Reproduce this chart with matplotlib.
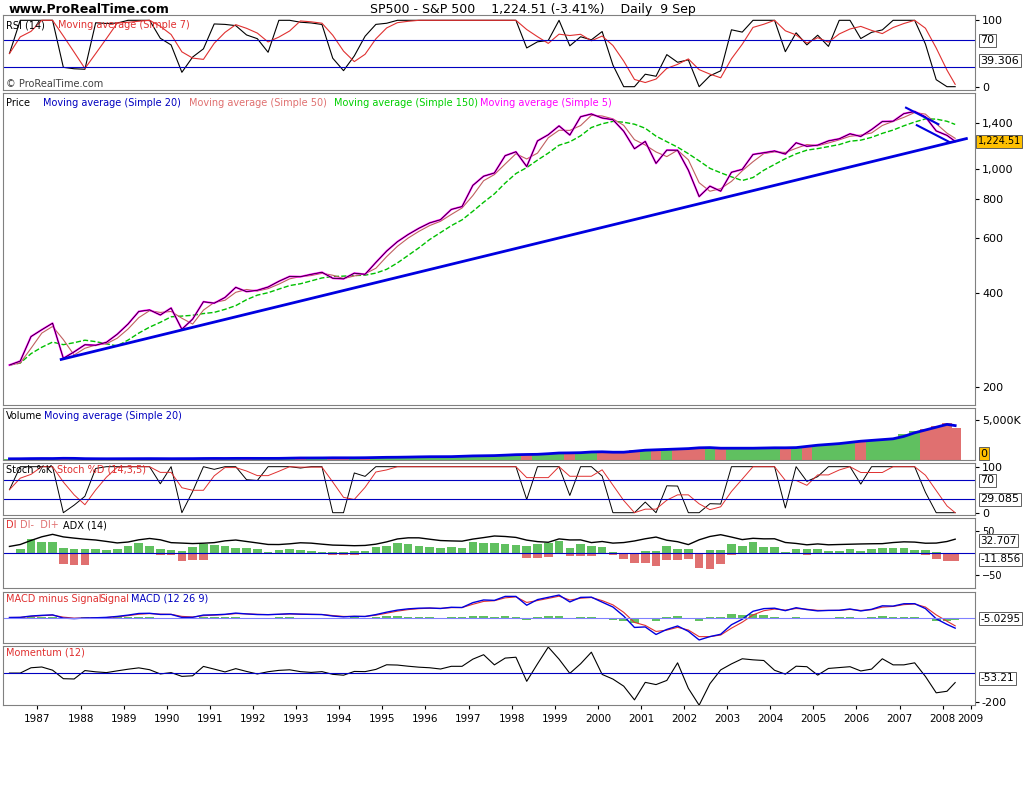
import numpy as np
import pandas as pd
import matplotlib
matplotlib.use("Agg")
import matplotlib.pyplot as plt
from matplotlib.ticker import FixedLocator, NullLocator

# quarterly closes of the S&P 500 (1986 Q3 .. 9 Sep 2008)
closes = [235, 242,
          290, 305, 320, 247,  259, 273, 272, 278,  295, 318, 349, 353,
          340, 358, 306, 330,  375, 371, 387, 417,  404, 408, 418, 436,
          452, 451, 459, 466,  446, 444, 463, 459,  501, 545, 584, 616,
          645, 671, 687, 741,  757, 885, 947, 970,  1102, 1134, 1017, 1229,
          1286, 1373, 1283, 1469,  1499, 1455, 1437, 1320,  1160, 1224, 1041, 1148,
          1147, 990, 815, 880,  848, 975, 996, 1112,  1126, 1141, 1115, 1212,
          1181, 1191, 1229, 1248,  1295, 1270, 1336, 1418,  1421, 1503, 1527, 1468,
          1323, 1280, 1225]
# average daily volume per quarter, thousands of shares
volumes = [150, 160,
           190, 180, 185, 240,  170, 165, 150, 155,  160, 165, 170, 175,
           160, 165, 170, 175,  200, 190, 195, 210,  200, 205, 200, 210,
           250, 260, 250, 270,  280, 270, 280, 290,  330, 340, 350, 380,
           400, 420, 410, 430,  500, 520, 540, 560,  650, 680, 700, 720,
           850, 900, 880, 950,  1050, 1000, 950, 1000,  1200, 1250, 1300, 1350,
           1400, 1450, 1600, 1500,  1450, 1500, 1450, 1500,  1500, 1550, 1500, 1600,
           1800, 1900, 2000, 2100,  2300, 2400, 2500, 2600,  2700, 3200, 3600, 3900,
           4300, 4600, 4000]
year_ticks = list(range(1987, 2010))
trend_x = [1987.95, 2008.95]
trend_y = [245, 1250]
channel_upper_x = [2007.55, 2008.3]
channel_upper_y = [1570, 1390]
channel_lower_x = [2007.8, 2008.55]
channel_lower_y = [1380, 1220]

dates = 1986.75 + 0.25 * np.arange(len(closes))
dates[-1] = 2008.69
px = pd.Series(closes, dtype=float)
vol = pd.Series(volumes, dtype=float)

# indicators computed from the quarterly closes
chg = px.diff()
up = chg.clip(lower=0).rolling(3, min_periods=1).mean()
dn = (-chg).clip(lower=0).rolling(3, min_periods=1).mean()
rsi = (100 * up / (up + dn)).fillna(50)
rsi_ma = rsi.rolling(3, min_periods=1).mean()
lo = px.rolling(4, min_periods=1).min()
hi = px.rolling(4, min_periods=1).max()
stoch = (100 * (px - lo) / (hi - lo)).fillna(50)
stoch_d = stoch.rolling(3, min_periods=1).mean()
dip = (100 * up / px.rolling(3, min_periods=1).mean() * 3).fillna(0)
dim = (100 * dn / px.rolling(3, min_periods=1).mean() * 3).fillna(0)
adx = 15 + (abs(dip - dim)).rolling(3, min_periods=1).mean()
macd = px.ewm(span=3).mean() - px.ewm(span=6).mean()
sig = macd.ewm(span=2).mean()
mom = px.diff(2).fillna(0)

fig = plt.figure(figsize=(10.24, 8), dpi=100)
W, H = 1024, 800
L, R = 3, 975


def panel(top, bot):
    ax = fig.add_axes([L / W, 1 - bot / H, (R - L) / W, (bot - top) / H])
    ax.set_xlim(1986.6, 2009.15)
    ax.yaxis.tick_right()
    ax.tick_params(axis="y", labelsize=8, length=3, pad=2)
    ax.tick_params(axis="x", length=0, labelbottom=False)
    for s in ax.spines.values():
        s.set_color("#808080")
    ax.xaxis.set_major_locator(FixedLocator(year_ticks))
    return ax


def tag(ax, y, text, fc="white", fs=8, dx=4):
    ax.annotate(text, xy=(1.0, y), xycoords=("axes fraction", "data"),
                xytext=(dx, 0), textcoords="offset points", va="center",
                fontsize=fs, bbox=dict(boxstyle="square,pad=0.15", fc=fc, ec="#606060", lw=0.7),
                annotation_clip=False)


def label(ax, x, text, color="black", y=0.97):
    ax.text(x, y, text, transform=ax.transAxes, fontsize=7, va="top", color=color)


fig.text(0.008, 0.988, "www.ProRealTime.com", fontsize=9, weight="bold", va="center")
fig.text(0.52, 0.988, "SP500 - S&P 500    1,224.51 (-3.41%)    Daily  9 Sep",
         fontsize=9, va="center", ha="center")

# RSI
ax = panel(15, 90)
ax.plot(dates, rsi, color="black", lw=0.8)
ax.plot(dates, rsi_ma, color="#e03030", lw=0.8)
for lv in (30, 70):
    ax.axhline(lv, color="#0000c0", lw=0.8)
ax.set_ylim(-5, 108)
ax.yaxis.set_major_locator(FixedLocator([0, 100]))
label(ax, 0.003, "RSI (14)", y=0.93)
label(ax, 0.057, "Moving average (Simple 7)", "#e03030", y=0.93)
ax.text(0.003, 0.04, "© ProRealTime.com", transform=ax.transAxes, fontsize=7, color="#404040")
tag(ax, 70, "70")
tag(ax, 39.3, "39.306")

# Price
ax = panel(93, 405)
ax.set_yscale("log")
ax.plot(dates, px.rolling(6, min_periods=1).mean(), color="#00c000", lw=1, ls="--")
ax.plot(dates, px.rolling(2, min_periods=1).mean(), color="#c06060", lw=0.8)
ax.plot(dates, px, color="#ff00ff", lw=1.4)
ax.plot(dates, px, color="black", lw=0.5)
ax.plot(trend_x, trend_y, color="#0000e0", lw=2)
ax.plot(channel_upper_x, channel_upper_y, color="#0000e0", lw=1.5)
ax.plot(channel_lower_x, channel_lower_y, color="#0000e0", lw=1.5)
ax.set_ylim(175, 1750)
ax.yaxis.set_major_locator(FixedLocator([200, 400, 600, 800, 1000, 1400]))
ax.yaxis.set_minor_locator(NullLocator())
ax.set_yticklabels(["200", "400", "600", "800", "1,000", "1,400"])
x0 = 0.003
for txt, c in [("Price", "black"), ("Moving average (Simple 20)", "#0000c0"),
               ("Moving average (Simple 50)", "#e07070"), ("Moving average (Simple 150)", "#00d000"),
               ("Moving average (Simple 5)", "#ff00ff")]:
    label(ax, x0, txt, c, y=0.985)
    x0 += 0.038 if txt == "Price" else 0.15
tag(ax, 1224.5, "1,224.51", fc="#ffc000", fs=7, dx=2)

# Volume
ax = panel(408, 460)
ax.bar(dates, vol, width=0.25, color=["#60c060" if d >= 0 else "#e07070" for d in chg.fillna(0)])
ax.plot(dates, vol.rolling(2, min_periods=1).mean(), color="#0000e0", lw=2)
ax.set_ylim(0, 6500)
ax.yaxis.set_major_locator(FixedLocator([5000]))
ax.set_yticklabels(["5,000K"])
label(ax, 0.003, "Volume", y=0.95)
label(ax, 0.042, "Moving average (Simple 20)", "#0000c0", y=0.95)
tag(ax, 800, "0", fc="#ffc000")

# Stochastic
ax = panel(463, 515)
ax.plot(dates, stoch, color="black", lw=0.7)
ax.plot(dates, stoch_d, color="#e03030", lw=0.7)
for lv in (30, 70):
    ax.axhline(lv, color="#0000c0", lw=0.8)
ax.set_ylim(-5, 108)
ax.yaxis.set_major_locator(FixedLocator([0, 100]))
label(ax, 0.003, "Stoch %K")
label(ax, 0.056, "Stoch %D (14,3,5)", "#e03030")
tag(ax, 70, "70")
tag(ax, 29.1, "29.085")

# DI / ADX
ax = panel(518, 588)
ax.bar(dates, dip, width=0.2, color="#60c060")
ax.bar(dates, -dim, width=0.2, color="#e07070")
ax.plot(dates, adx, color="black", lw=1)
ax.axhline(0, color="#0000c0", lw=0.8)
ax.set_ylim(-80, 80)
ax.yaxis.set_major_locator(FixedLocator([-50, 50]))
ax.tick_params(axis="y", labelsize=7)
label(ax, 0.003, "DI", "#e03030")
label(ax, 0.018, "DI-  DI+", "#e07070")
label(ax, 0.062, "ADX (14)")
tag(ax, 28, "32.707", fs=7.5)
tag(ax, -14, "-11.856", fs=7.5)

# MACD
ax = panel(592, 643)
ax.bar(dates, macd - sig, width=0.2, color="#60c060")
ax.plot(dates, sig, color="#e03030", lw=0.8)
ax.plot(dates, macd, color="#0000e0", lw=1)
ax.axhline(0, color="#8080ff", lw=0.8)
ax.set_ylim(-110, 110)
ax.yaxis.set_major_locator(NullLocator())
label(ax, 0.003, "MACD minus Signal", "#e03030")
label(ax, 0.099, "Signal", "#e03030")
label(ax, 0.132, "MACD (12 26 9)", "#0000c0")
tag(ax, -5.03, "-5.0295", fs=7.5)

# Momentum
ax = panel(646, 705)
ax.plot(dates, mom, color="black", lw=0.8)
ax.axhline(0, color="#0000c0", lw=0.8)
ax.set_ylim(-330, 280)
ax.yaxis.set_major_locator(FixedLocator([-300]))
ax.set_yticklabels(["-200"])
label(ax, 0.003, "Momentum (12)", "#e03030")
tag(ax, -53.2, "-53.21", fs=7.5)
ax.tick_params(axis="x", labelbottom=True, labelsize=7.5, length=3)
ax.xaxis.set_major_locator(FixedLocator([y + 0.4 for y in year_ticks[:-1]] + [2009.05]))
ax.set_xticklabels([str(y) for y in year_ticks[:-1]] + ["2009"])

fig.savefig("out.png", dpi=100, facecolor="white")
